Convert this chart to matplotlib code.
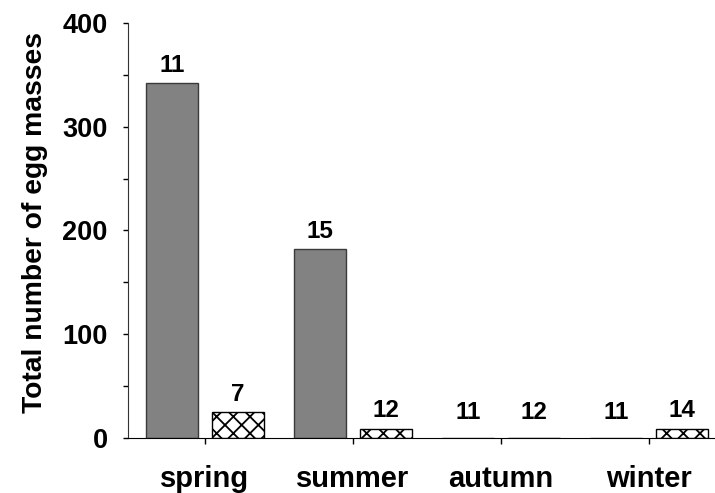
import matplotlib
matplotlib.use("Agg")
import matplotlib.pyplot as plt
import numpy as np
from matplotlib.ticker import MultipleLocator

plt.rcParams['font.family'] = ['Liberation Sans', 'DejaVu Sans']
plt.rcParams['font.weight'] = 'bold'
plt.rcParams['hatch.linewidth'] = 1.3

seasons = ["spring", "summer", "autumn", "winter"]
gray_values = [342, 182, 0, 0]
hatched_values = [25, 9, 0, 9]
gray_n = ["11", "15", "11", "11"]
hatched_n = ["7", "12", "12", "14"]

fig = plt.figure(figsize=(7.15, 4.93), dpi=100)
ax = fig.add_axes([128/715, 1-438/493, 1-128/715, (438-23)/493])

x = np.arange(len(seasons))
w = 0.351
off = 0.223
b1 = ax.bar(x - off, gray_values, w, color='#828282', edgecolor='#3a3a3a', linewidth=1.0)
b2 = ax.bar(x + off, hatched_values, w, color='white', edgecolor='black', hatch='xx', linewidth=1.0)

for bars, labels in ((b1, gray_n), (b2, hatched_n)):
    for rect, lab in zip(bars, labels):
        h = max(rect.get_height(), 7)
        ax.annotate(lab, (rect.get_x() + rect.get_width()/2, h), xytext=(0, 4.5),
                    textcoords='offset points', ha='center', va='bottom',
                    fontsize=17.5, fontweight='bold')

ax.set_ylim(0, 400)
ax.set_xlim(-0.52, 3.446)
ax.yaxis.set_major_locator(MultipleLocator(100))
ax.yaxis.set_minor_locator(MultipleLocator(50))
ax.set_xticks(x)
ax.set_xticklabels(seasons, fontsize=21, fontweight='bold')
ax.tick_params(axis='x', direction='out', length=4.5, width=1, pad=15)
ax.tick_params(axis='y', which='both', direction='out', length=3.5, width=1, pad=11, labelsize=19.5)
for lab in ax.get_yticklabels():
    lab.set_fontweight('bold')
ax.spines['top'].set_visible(False)
ax.spines['right'].set_visible(False)
ax.spines['left'].set_color('#333333')
ax.spines['bottom'].set_color('black')
ax.set_ylabel("Total number of egg masses", fontsize=20.3, fontweight='bold')
ax.yaxis.set_label_coords(-0.137, 0.52)

fig.savefig("out.png", dpi=100)
